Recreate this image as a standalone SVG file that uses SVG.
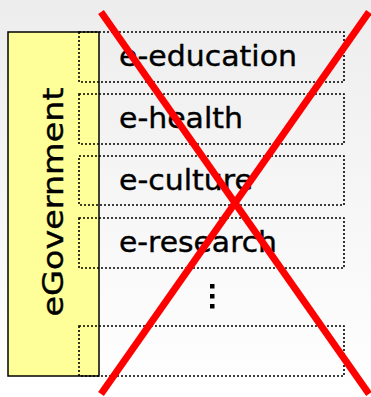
<svg xmlns="http://www.w3.org/2000/svg" width="371" height="397" viewBox="0 0 371 397">
<defs>
<linearGradient id="bg" x1="0" y1="0" x2="0" y2="1">
<stop offset="0" stop-color="#ededed"/>
<stop offset="0.55" stop-color="#f7f7f7"/>
<stop offset="1" stop-color="#ffffff"/>
</linearGradient>
<style>
.box{fill:none;stroke:#000;stroke-width:1.6;stroke-dasharray:2 2}
.lbl{font-family:"DejaVu Sans",sans-serif;font-size:29px;fill:#000;stroke:#000;stroke-width:0.4}
.x{stroke:#ff0000;stroke-width:7;stroke-linecap:butt}
</style>
</defs>
<rect width="371" height="397" fill="url(#bg)"/>
<g id="egov">
<rect x="8" y="32" width="91" height="344" fill="#ffff99" stroke="#000" stroke-width="1.5"/>
<text class="lbl" transform="translate(63,202) rotate(-90)" text-anchor="middle" textLength="229" lengthAdjust="spacingAndGlyphs">eGovernment</text>
</g>
<g id="education">
<rect class="box" x="79" y="32" width="265" height="50"/>
<text class="lbl" x="119" y="66" textLength="178" lengthAdjust="spacingAndGlyphs">e-education</text>
</g>
<g id="health">
<rect class="box" x="79" y="94" width="265" height="50"/>
<text class="lbl" x="119" y="128" textLength="124" lengthAdjust="spacingAndGlyphs">e-health</text>
</g>
<g id="culture">
<rect class="box" x="79" y="156" width="265" height="49"/>
<text class="lbl" x="119" y="190" textLength="134" lengthAdjust="spacingAndGlyphs">e-culture</text>
</g>
<g id="research">
<rect class="box" x="79" y="218" width="265" height="50"/>
<text class="lbl" x="119" y="252" textLength="158" lengthAdjust="spacingAndGlyphs">e-research</text>
</g>
<g id="dots">
<rect x="210" y="284" width="4.5" height="4.5" fill="#000"/>
<rect x="210" y="294" width="4.5" height="4.5" fill="#000"/>
<rect x="210" y="304" width="4.5" height="4.5" fill="#000"/>
</g>
<g id="last">
<rect class="box" x="79" y="326" width="265" height="50"/>
</g>
<g id="connectors">
<line class="x" x1="101" y1="12" x2="369" y2="394"/>
<line class="x" x1="369" y1="12" x2="101" y2="394"/>
</g>
</svg>
